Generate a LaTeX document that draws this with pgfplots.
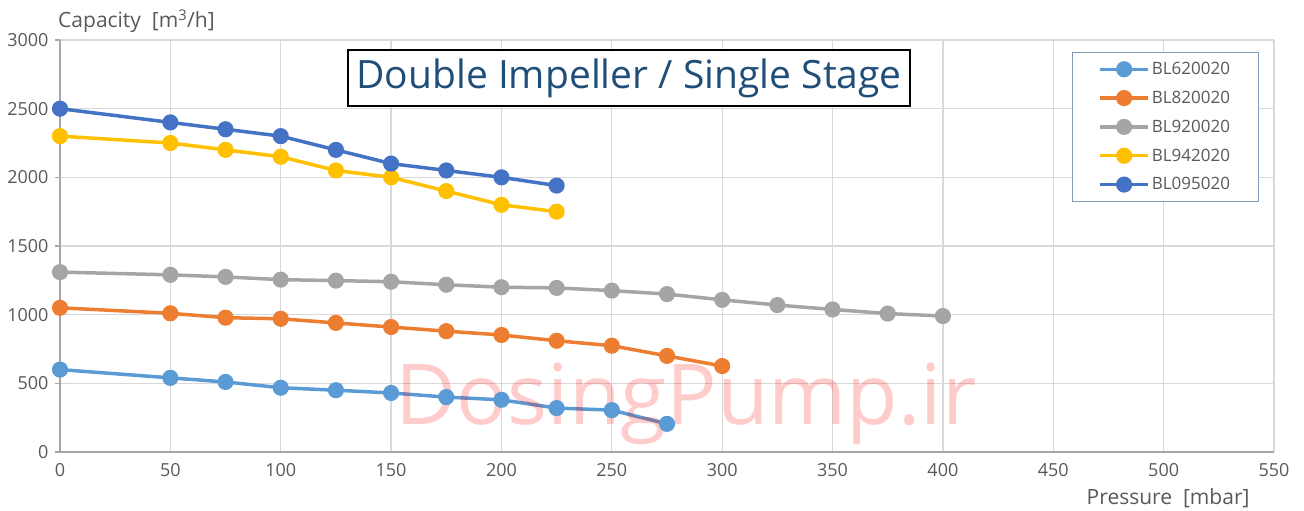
\documentclass[border=0pt]{standalone}
\usepackage{pgfplots}
\pgfplotsset{compat=1.18}
\usepackage{fontspec}
\setmainfont{Open Sans}

\definecolor{c1}{HTML}{5B9BD5}
\definecolor{c2}{HTML}{ED7D31}
\definecolor{c3}{HTML}{A5A5A5}
\definecolor{c4}{HTML}{FFC000}
\definecolor{c5}{HTML}{4472C4}
\definecolor{txt}{HTML}{595959}
\definecolor{grd}{HTML}{D9D9D9}
\definecolor{axgray}{HTML}{A6A6A6}
\definecolor{ttl}{HTML}{1F4E79}
\definecolor{lgbord}{HTML}{7F9DB9}

\pgfplotsset{
  curve/.style={line width=3.5pt, color=#1, mark=*, mark size=6.3pt,
    mark options={solid, fill=#1, draw=none}},
}

\begin{document}
\begin{tikzpicture}
\begin{axis}[
    scale only axis,
    width=1214pt, height=412pt,
    xmin=0, xmax=550, ymin=0, ymax=3000,
    clip=false,
    xtick distance=50, ytick distance=500,
    grid=major,
    grid style={grd, line width=1.2pt},
    axis x line*=bottom, axis y line*=left,
    axis line style={axgray, line width=1.5pt},
    tick align=outside, major tick length=5pt,
    xtick style={draw=none},
    ytick style={axgray, line width=1.2pt},
    ticklabel style={font=\fontsize{18}{18}\selectfont, text=txt},
    yticklabel style={xshift=-3pt},
    xticklabel style={yshift=-3pt},
    /pgf/number format/assume math mode=true,
    /pgf/number format/1000 sep={},
    legend style={at={(rel axis cs:0.8336,0.971)}, anchor=north west,
      draw=lgbord, line width=0.8pt, font=\fontsize{17}{17}\selectfont,
      text=txt, row sep=11pt, inner xsep=26pt, inner ysep=8pt},
    legend cell align=left,
    legend image code/.code={
      \draw[mark repeat=2, mark phase=2] plot coordinates {(0pt,0pt) (24pt,0pt) (48pt,0pt)};},
  ]

\addplot[curve=c1] coordinates {
  (0,600) (50,540) (75,510) (100,468) (125,450) (150,430) (175,400)
  (200,380) (225,320) (250,305) (275,205)};
\addlegendentry{BL620020}

\addplot[curve=c2] coordinates {
  (0,1050) (50,1010) (75,978) (100,970) (125,940) (150,910) (175,880)
  (200,852) (225,810) (250,774) (275,700) (300,626)};
\addlegendentry{BL820020}

\addplot[curve=c3] coordinates {
  (0,1310) (50,1290) (75,1275) (100,1255) (125,1248) (150,1240) (175,1218)
  (200,1200) (225,1195) (250,1175) (275,1150) (300,1108) (325,1070)
  (350,1038) (375,1008) (400,990)};
\addlegendentry{BL920020}

\addplot[curve=c4] coordinates {
  (0,2300) (50,2250) (75,2200) (100,2150) (125,2050) (150,2000) (175,1900)
  (200,1800) (225,1750)};
\addlegendentry{BL942020}

\addplot[curve=c5] coordinates {
  (0,2500) (50,2400) (75,2350) (100,2300) (125,2200) (150,2100) (175,2050)
  (200,2000) (225,1940)};
\addlegendentry{BL095020}

% watermark
\node[anchor=base, text=red, opacity=0.2, inner sep=0,
  font=\fontsize{84}{84}\selectfont] at (axis cs:283.6,197) {DosingPump.ir};

% title box
\node[draw=black, line width=1.5pt, fill=white, text=ttl, inner sep=0,
  minimum width=562pt, minimum height=56pt,
  font=\fontsize{39}{39}\selectfont] at (axis cs:257.8,2724)
  {Double Impeller / Single Stage};

% axis titles
\node[anchor=base west, inner sep=0, text=txt, font=\fontsize{21}{21}\selectfont]
  at ([xshift=-2pt,yshift=12pt]rel axis cs:0,1) {Capacity\ \ [m\textsuperscript{3}/h]};
\node[anchor=base east, inner sep=0, text=txt, font=\fontsize{21}{21}\selectfont]
  at ([yshift=-52pt]rel axis cs:0.98,0) {Pressure\ \ [mbar]};
\end{axis}
\pgfresetboundingbox
\path[use as bounding box] ([xshift=-60pt,yshift=-58pt]current axis.south west)
  rectangle ([xshift=30pt,yshift=40pt]current axis.north east);
\end{tikzpicture}
\end{document}
